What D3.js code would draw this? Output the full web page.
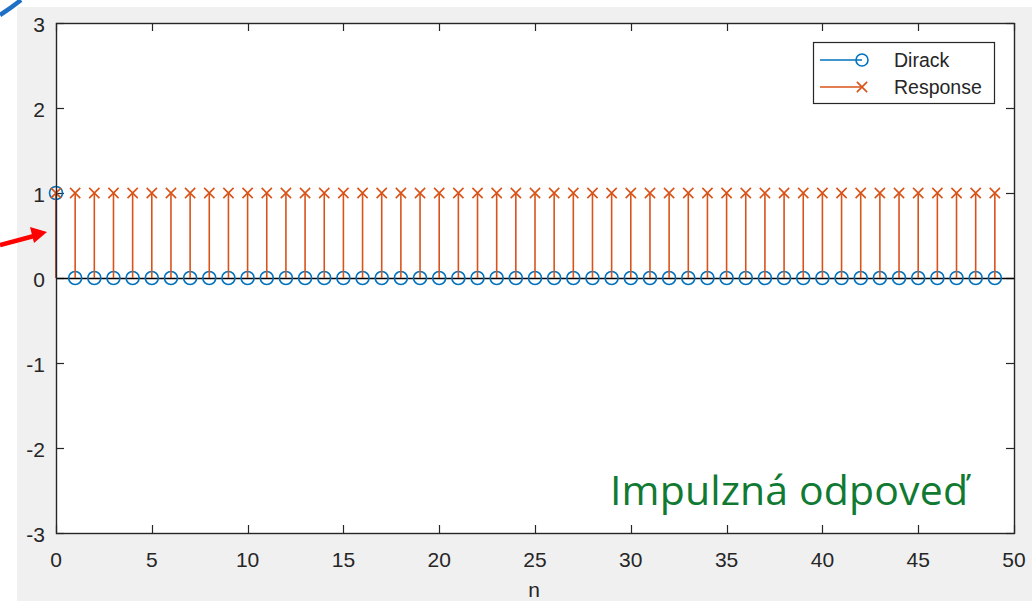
<!DOCTYPE html>
<html lang="en">
<head>
  <meta charset="UTF-8">
  <title>Impulzná odpoveď</title>
  <script src="https://d3js.org/d3.v7.min.js"></script>
  <style>
    body { margin: 0; background: #fff; }
    svg { display: block; }
    .tick-label { font-family: "Liberation Sans", Arial, sans-serif; font-size: 21px; fill: #262626; }
    .legend-text { font-family: "Liberation Sans", Arial, sans-serif; font-size: 19.5px; fill: #262626; }
  </style>
</head>
<body>
<div id="chart"></div>
<script>
  // Data
  const n = d3.range(0, 50);
  const dirack = n.map(d => d === 0 ? 1 : 0);
  const response = n.map(() => 1);
  const xTicks = [0, 5, 10, 15, 20, 25, 30, 35, 40, 45, 50];
  const yTicks = [-3, -2, -1, 0, 1, 2, 3];
  const seriesNames = ["Dirack", "Response"];
  const colors = ["#0072BD", "#D95319"];

  const width = 1032, height = 601;
  const plot = { left: 56, right: 1014, top: 23, bottom: 533 };

  const x = d3.scaleLinear().domain([0, 50]).range([plot.left, plot.right]);
  const y = d3.scaleLinear().domain([-3, 3]).range([plot.bottom, plot.top]);

  const svg = d3.select("#chart").append("svg")
    .attr("width", width).attr("height", height);

  // grey figure background
  svg.append("rect").attr("x", 17).attr("y", 7)
    .attr("width", width - 17).attr("height", height - 7).attr("fill", "#f0f0f0");

  // axes area
  svg.append("rect")
    .attr("x", plot.left).attr("y", plot.top)
    .attr("width", plot.right - plot.left).attr("height", plot.bottom - plot.top)
    .attr("fill", "#fff");

  const tickLen = 8;
  const axisColor = "#262626";

  // ticks (inward, all four sides)
  const tg = svg.append("g").attr("stroke", axisColor).attr("stroke-width", 1.2);
  xTicks.forEach(t => {
    const px = Math.round(x(t)) + 0.5;
    tg.append("line").attr("x1", px).attr("x2", px).attr("y1", plot.bottom).attr("y2", plot.bottom - tickLen);
    tg.append("line").attr("x1", px).attr("x2", px).attr("y1", plot.top).attr("y2", plot.top + tickLen);
  });
  yTicks.forEach(t => {
    const py = Math.round(y(t)) + 0.5;
    tg.append("line").attr("x1", plot.left).attr("x2", plot.left + tickLen).attr("y1", py).attr("y2", py);
    tg.append("line").attr("x1", plot.right).attr("x2", plot.right - tickLen).attr("y1", py).attr("y2", py);
  });

  // tick labels
  svg.selectAll(".xl").data(xTicks).enter().append("text")
    .attr("class", "tick-label")
    .attr("x", d => x(d)).attr("y", 567)
    .attr("text-anchor", "middle")
    .text(d => d);
  svg.selectAll(".yl").data(yTicks).enter().append("text")
    .attr("class", "tick-label")
    .attr("x", 45).attr("y", d => y(d) + 9)
    .attr("text-anchor", "end")
    .text(d => d);

  // x label
  svg.append("text").attr("class", "tick-label")
    .attr("x", (plot.left + plot.right) / 2 - 1).attr("y", 597)
    .attr("text-anchor", "middle").text("n");

  // stem baseline
  svg.append("line")
    .attr("x1", plot.left).attr("x2", plot.right)
    .attr("y1", Math.round(y(0)) + 0.5).attr("y2", Math.round(y(0)) + 0.5)
    .attr("stroke", "#000").attr("stroke-width", 1.3);

  // Dirack stems + circles
  const g1 = svg.append("g");
  g1.selectAll("line").data(n).enter().append("line")
    .attr("x1", d => x(d)).attr("x2", d => x(d))
    .attr("y1", y(0)).attr("y2", (d, i) => y(dirack[i]))
    .attr("stroke", colors[0]).attr("stroke-width", 1.6);
  g1.selectAll("circle").data(n).enter().append("circle")
    .attr("cx", d => x(d)).attr("cy", (d, i) => y(dirack[i]))
    .attr("r", 6.5).attr("fill", "none")
    .attr("stroke", colors[0]).attr("stroke-width", 1.6);

  // Response stems + crosses
  const g2 = svg.append("g");
  g2.selectAll("line").data(n).enter().append("line")
    .attr("x1", d => x(d)).attr("x2", d => x(d))
    .attr("y1", y(0)).attr("y2", (d, i) => y(response[i]))
    .attr("stroke", colors[1]).attr("stroke-width", 1.6);
  const cross = d3.symbol().type(d3.symbolX).size(70);
  g2.selectAll("path").data(n).enter().append("path")
    .attr("transform", (d, i) => `translate(${x(d)},${y(response[i])})`)
    .attr("d", cross)
    .attr("fill", "none")
    .attr("stroke", colors[1]).attr("stroke-width", 1.6);

  // box
  svg.append("rect")
    .attr("x", plot.left + 0.5).attr("y", plot.top + 0.5)
    .attr("width", plot.right - plot.left).attr("height", plot.bottom - plot.top)
    .attr("fill", "none").attr("stroke", axisColor).attr("stroke-width", 1.4);

  // legend
  const leg = svg.append("g");
  leg.append("rect").attr("x", 813.5).attr("y", 42.5).attr("width", 181).attr("height", 61)
    .attr("fill", "#fff").attr("stroke", axisColor).attr("stroke-width", 1.2);
  seriesNames.forEach((name, i) => {
    const ly = 60 + i * 27;
    leg.append("line").attr("x1", 820).attr("x2", 862).attr("y1", ly).attr("y2", ly)
      .attr("stroke", colors[i]).attr("stroke-width", 1.6);
    if (i === 0) {
      leg.append("circle").attr("cx", 862).attr("cy", ly).attr("r", 6)
        .attr("fill", "none").attr("stroke", colors[i]).attr("stroke-width", 1.6);
    } else {
      leg.append("path").attr("transform", `translate(862,${ly})`).attr("d", cross)
        .attr("fill", "none").attr("stroke", colors[i]).attr("stroke-width", 1.6);
    }
    leg.append("text").attr("class", "legend-text")
      .attr("x", 894).attr("y", ly + 7).text(name);
  });

  // annotation text
  svg.append("text")
    .attr("x", 610).attr("y", 505)
    .style("font-family", "'Open Sans', 'Noto Sans', sans-serif")
    .style("font-size", "41px")
    .attr("textLength", 358)
    .attr("fill", "#107a33")
    .text("Impulzná odpoveď");

  // red arrow pointing at the first stem
  svg.append("line")
    .attr("x1", 0).attr("y1", 245).attr("x2", 34).attr("y2", 236)
    .attr("stroke", "#ff0000").attr("stroke-width", 4.5);
  svg.append("path")
    .attr("d", "M47,232 L30,227 L34,243 Z")
    .attr("fill", "#ff0000");

  // blue arc fragment in the top-left corner
  svg.append("path")
    .attr("d", "M0,15 Q11,8 21,0")
    .attr("fill", "none").attr("stroke", "#1f6fc5").attr("stroke-width", 4.5);
</script>
</body>
</html>
